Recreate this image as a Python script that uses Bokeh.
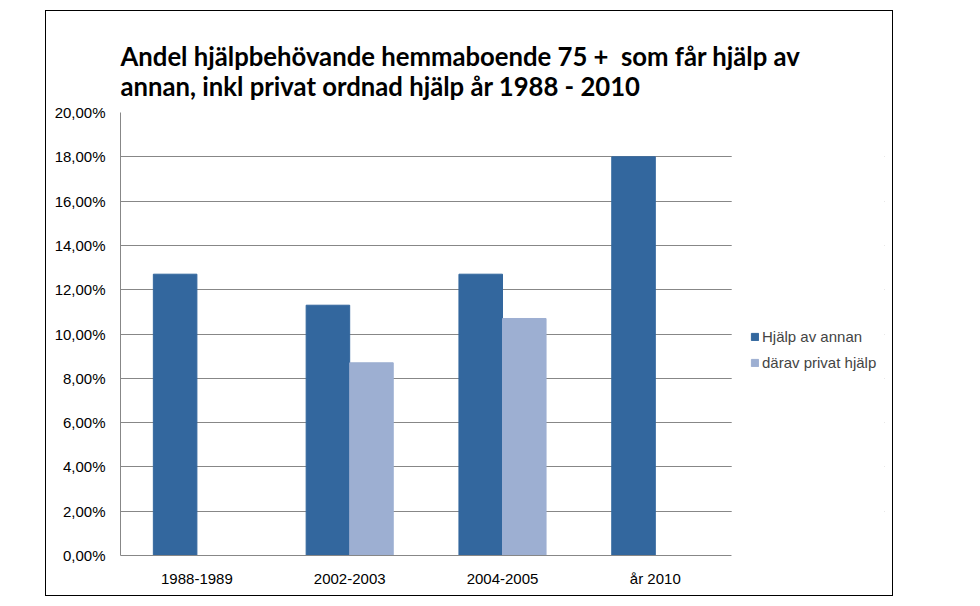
import numpy as np
from bokeh.plotting import figure
from bokeh.models import (ColumnDataSource, FactorRange, FixedTicker, Legend, LegendItem,
                          Range1d, BoxAnnotation)
from bokeh.transform import dodge
from bokeh.embed import file_html
from bokeh.resources import INLINE

categories = ["1988-1989", "2002-2003", "2004-2005", "år 2010"]
hjalp_av_annan = [12.7, 11.3, 12.7, 18.0]
darav_privat = [np.nan, 8.7, 10.7, np.nan]
y_ticks = [0, 2, 4, 6, 8, 10, 12, 14, 16, 18, 20]
y_tick_labels = ["0,00%", "2,00%", "4,00%", "6,00%", "8,00%", "10,00%",
                 "12,00%", "14,00%", "16,00%", "18,00%", "20,00%"]
series_names = ["Hjälp av annan", "därav privat hjälp"]
title_text = "Andel hjälpbehövande hemmaboende 75 +\u00a0 som får hjälp av\nannan, inkl privat ordnad hjälp år 1988 - 2010"
legend_slot = "legend"  # empty slot on the category axis that holds the legend

DARK = "#33679E"
LIGHT = "#9DAFD2"
GRID = "#878787"

src = ColumnDataSource(dict(cat=categories, a=hjalp_av_annan, b=darav_privat))

p = figure(x_range=FactorRange(factors=categories + [legend_slot], range_padding=0),
           y_range=Range1d(0, 20),
           width=848, height=586,
           output_backend="svg", toolbar_location=None,
           min_border_left=74, min_border_right=10, min_border_top=101, min_border_bottom=42,
           margin=(10, 0, 0, 45))
p.styles = {"border": "1px solid black"}

p.title.text = title_text
p.title.text_font = "Lato"
p.title.text_font_style = "bold"
p.title.text_font_size = "25.7px"
p.title.text_color = "#000000"
p.title.vertical_align = "top"
p.title.standoff = 20

bw = 0.285
r1 = p.vbar(x=dodge("cat", -bw / 2, range=p.x_range), top="a", width=bw, source=src,
            fill_color=DARK, line_color=DARK)
r2 = p.vbar(x=dodge("cat", bw / 2, range=p.x_range), top="b", width=bw, source=src,
            fill_color=LIGHT, line_color=LIGHT)

p.outline_line_color = None
p.xgrid.grid_line_color = None
p.ygrid.grid_line_color = GRID
p.ygrid.ticker = FixedTicker(ticks=y_ticks)

p.yaxis.ticker = FixedTicker(ticks=y_ticks)
p.yaxis.major_label_overrides = {t: l for t, l in zip(y_ticks, y_tick_labels)}
p.xaxis.bounds = (0, len(categories))
for ax in (p.xaxis[0], p.yaxis[0]):
    ax.axis_line_color = GRID
    ax.major_tick_line_color = None
    ax.minor_tick_line_color = None
    ax.major_tick_out = 0
    ax.major_tick_in = 0
    ax.minor_tick_out = 0
    ax.major_label_text_font = "Liberation Sans"
    ax.major_label_text_font_size = "15px"
    ax.major_label_text_color = "#000000"
p.yaxis.major_label_standoff = 15
p.xaxis.major_label_standoff = 14

# blank the legend slot (grid lines stop at the last category)
mask = BoxAnnotation(left=len(categories), fill_color="white", fill_alpha=1.0,
                     line_color=None, level="annotation")
p.add_layout(mask)

legend = Legend(items=[LegendItem(label=series_names[0], renderers=[r1]),
                       LegendItem(label=series_names[1], renderers=[r2])],
                location=(630, 184), orientation="vertical",
                glyph_width=9, glyph_height=9, label_height=15, spacing=9,
                label_text_font="Liberation Sans", label_text_font_size="15px",
                label_standoff=3, padding=4, margin=0,
                border_line_color=None, background_fill_alpha=0)
p.add_layout(legend, "center")

open("out.html", "w").write(file_html(p, INLINE))
